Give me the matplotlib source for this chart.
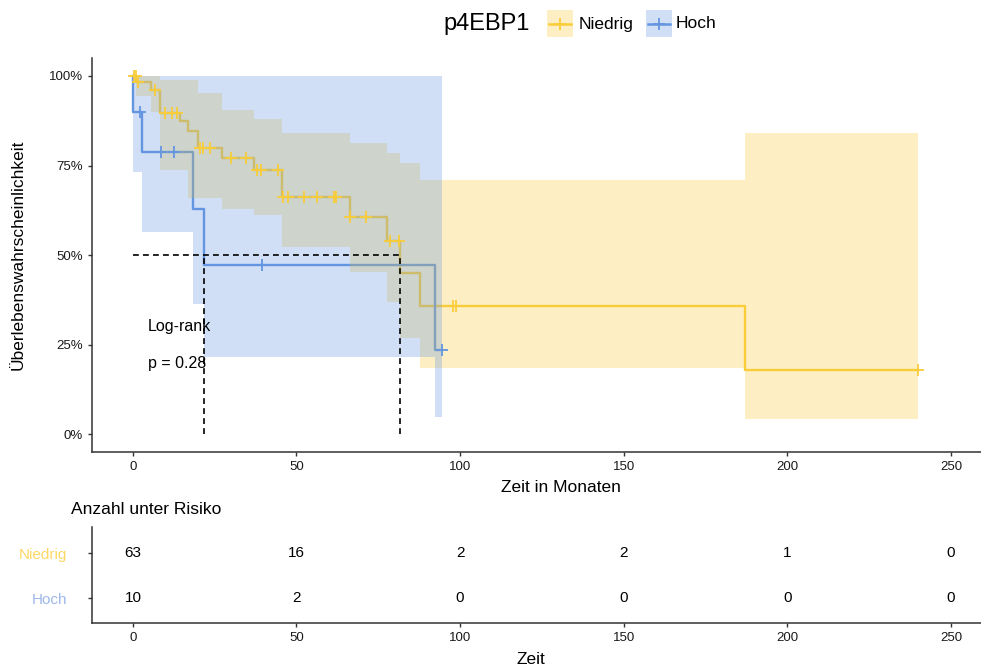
import numpy as np
import matplotlib.pyplot as plt
from matplotlib.patches import Rectangle
from matplotlib.lines import Line2D

plt.rcParams['font.family'] = ['Liberation Sans', 'DejaVu Sans']

# Niedrig (gelb) - Kaplan-Meier Stufen
nied_t = [0, 1.1, 5.5, 8.3, 14.4, 16.9, 19.9, 27.1, 37.0, 45.5, 66.2, 77.6, 81.6, 87.8, 187.0, 240.0]
nied_s = [100, 98.4, 96.0, 89.6, 87.3, 84.5, 79.8, 77.0, 73.8, 66.2, 60.6, 54.0, 44.9, 35.9, 17.9, 17.9]
nied_lo = [100, 94.5, 90.0, 73.8, 73.8, 66.0, 66.0, 63.0, 61.2, 52.4, 45.4, 37.0, 26.8, 18.5, 4.2, 4.2]
nied_hi = [100, 100, 100, 98.9, 98.9, 98.9, 95.2, 90.5, 88.0, 84.0, 81.2, 78.4, 75.6, 71.0, 84.0, 84.0]
nied_cens = [0.2, 0.9, 1.6, 6.9, 9.8, 11.8, 13.6, 20.5, 21.5, 23.6, 30.1, 34.7, 37.8, 39.0, 44.4,
             45.9, 47.5, 52.3, 56.3, 61.4, 62.0, 66.5, 71.1, 78.6, 81.3, 97.7, 98.9, 240.0]

# Hoch (blau)
hoch_t = [0, 0.1, 2.9, 18.4, 21.7, 92.4, 94.4]
hoch_s = [100, 90.0, 78.75, 63.0, 47.25, 23.6, 23.6]
hoch_lo = [100, 73.2, 56.4, 36.3, 21.5, 4.8, 4.8]
hoch_hi = [100, 100, 100, 100, 100, 100, 100]
hoch_cens = [2.1, 8.5, 12.7, 39.5, 94.4]

# Anzahl unter Risiko
risk_times = [0, 50, 100, 150, 200, 250]
risk_nied = [63, 16, 2, 2, 1, 0]
risk_hoch = [10, 2, 0, 0, 0, 0]

groups = ['Niedrig', 'Hoch']
col_line = {'Niedrig': '#F9CD3A', 'Hoch': '#6495E0'}
col_lab = {'Niedrig': '#FDD865', 'Hoch': '#9DB7EA'}
dark = '#333333'

W, H = 981, 671
fig = plt.figure(figsize=(W / 100, H / 100), dpi=100)

def fx(px):
    return px / W

def fy(py):
    return 1 - py / H

ax = fig.add_axes([fx(92), fy(452), fx(981) - fx(92), fy(58) - fy(452)])
ax.set_xlim(-12.5, 259.2)
ax.set_ylim(-4.9, 105)

data = {
    'Niedrig': (nied_t, nied_s, nied_lo, nied_hi, nied_cens),
    'Hoch': (hoch_t, hoch_s, hoch_lo, hoch_hi, hoch_cens),
}

def surv_at(t, s, x):
    i = np.searchsorted(t, x, side='right') - 1
    return np.asarray(s)[i]

medians = {}
for g in groups:
    t, s, lo, hi, cens = data[g]
    ax.step(t, s, where='post', color=col_line[g], lw=1.7, zorder=2)
for g in groups:
    t, s, lo, hi, cens = data[g]
    ax.fill_between(t, lo, hi, step='post', color=col_line[g], alpha=0.3, lw=0, zorder=3)
for g in groups:
    t, s, lo, hi, cens = data[g]
    ax.plot(cens, surv_at(t, s, cens), ls='none', marker='+', ms=8, mew=1.3,
            color=col_line[g], zorder=4)
    s_arr = np.asarray(s)
    medians[g] = np.asarray(t)[np.argmax(s_arr <= 50)]

# Medianlinien
m_max = max(medians.values())
ax.plot([0, m_max], [50, 50], ls=(0, (3.5, 2.5)), color='black', lw=1.2, zorder=5)
for g in groups:
    ax.plot([medians[g], medians[g]], [0, 50], ls=(0, (3.5, 2.5)), color='black', lw=1.2, zorder=5)

ax.text(4.6, 30.2, 'Log-rank', fontsize=11.5, va='center', ha='left')
ax.text(4.6, 19.9, 'p = 0.28', fontsize=11.5, va='center', ha='left')

ax.set_xticks(risk_times)
ax.set_yticks([0, 25, 50, 75, 100])
ax.set_yticklabels(['0%', '25%', '50%', '75%', '100%'])
for a in ['top', 'right']:
    ax.spines[a].set_visible(False)
for a in ['left', 'bottom']:
    ax.spines[a].set_color(dark)
    ax.spines[a].set_linewidth(1.1)
ax.tick_params(labelsize=9.5, colors=dark, length=3, width=1, labelcolor='#1a1a1a')

fig.text(fx(18), fy(255), 'Überlebenswahrscheinlichkeit', rotation=90, fontsize=12.5,
         ha='center', va='center')
fig.text(fx(561), fy(487), 'Zeit in Monaten', fontsize=12.5, ha='center', va='center')

# Legende
fig.text(fx(443), fy(24), 'p4EBP1', fontsize=17, ha='left', va='center')
for g, x0 in zip(groups, [547, 646]):
    fig.add_artist(Rectangle((fx(x0), fy(37)), fx(26), fy(10) - fy(37),
                             transform=fig.transFigure, color=col_line[g], alpha=0.3, lw=0))
    fig.add_artist(Line2D([fx(x0 + 2), fx(x0 + 24)], [fy(24), fy(24)],
                          transform=fig.transFigure, color=col_line[g], lw=1.8))
    fig.add_artist(Line2D([fx(x0 + 13)], [fy(24)], transform=fig.transFigure, ls='none',
                          marker='+', ms=8, mew=1.3, color=col_line[g]))
fig.text(fx(579), fy(24), 'Niedrig', fontsize=12.5, ha='left', va='center')
fig.text(fx(676), fy(24), 'Hoch', fontsize=12.5, ha='left', va='center')

# Risikotabelle
ax2 = fig.add_axes([fx(92), fy(623), fx(981) - fx(92), fy(527) - fy(623)])
ax2.set_xlim(-12.5, 259.2)
ax2.set_ylim(0.446, 2.578)
for x, n1, n2 in zip(risk_times, risk_nied, risk_hoch):
    ax2.text(x, 2, str(n1), ha='center', va='center', fontsize=11)
    ax2.text(x, 1, str(n2), ha='center', va='center', fontsize=11)
ax2.set_xticks(risk_times)
ax2.set_yticks([2, 1])
ax2.set_yticklabels(groups)
for a in ['top', 'right']:
    ax2.spines[a].set_visible(False)
for a in ['left', 'bottom']:
    ax2.spines[a].set_color(dark)
    ax2.spines[a].set_linewidth(1.1)
ax2.tick_params(axis='x', labelsize=9.5, colors=dark, length=3, width=1, labelcolor='#1a1a1a')
ax2.tick_params(axis='y', colors=dark, length=3, width=1, pad=15, labelsize=11)
for lab, g in zip(ax2.get_yticklabels(), groups):
    lab.set_color(col_lab[g])

fig.text(fx(71), fy(510), 'Anzahl unter Risiko', fontsize=12.5, ha='left', va='center')
fig.text(fx(531), fy(660), 'Zeit', fontsize=12.5, ha='center', va='center')

fig.savefig('out.png', dpi=100)
